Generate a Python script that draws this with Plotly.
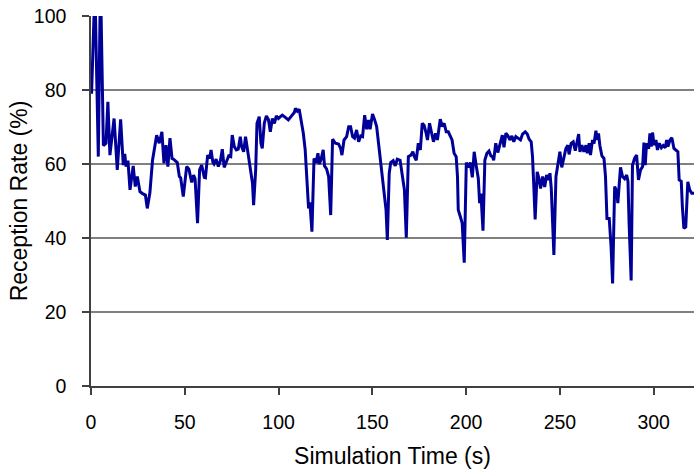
import plotly.graph_objects as go

time_s = [
    0.3, 1.6, 2.4, 3.9, 4.8, 5.4, 6.6, 8, 9, 10.1,
    12.3, 14, 15.8, 17.2, 18, 18.7, 19.7, 20.8, 22.5, 23.6,
    24.7, 26.1, 27.5, 29, 30, 31.4, 32.8, 35, 36.4, 37.8,
    38.9, 40, 41, 42.1, 43.2, 44, 46, 47.1, 47.8, 49.2,
    51, 52.2, 53.7, 54.7, 55.5, 56.8, 57.9, 59, 60.4, 61,
    62.2, 63.3, 64, 65, 65.6, 66.7, 67.9, 69, 70, 71,
    72.2, 73.4, 74.5, 75.3, 76.4, 77.5, 78.5, 79.6, 80.3, 81.4,
    82.4, 83.5, 84.9, 86.1, 86.7, 87.8, 88.5, 89.7, 90.6, 91.3,
    92.4, 93.5, 94.6, 95.6, 96.7, 97.8, 98.8, 99.9, 101, 102,
    103.1, 104.2, 105.2, 106.3, 107.4, 108.4, 109, 110, 111, 112.1,
    113.2, 114.2, 115.3, 116, 116.7, 117.8, 118.9, 120, 121, 121.7,
    122.7, 123.8, 124.5, 125.6, 126.7, 127.8, 128.8, 130.3, 132, 133.1,
    133.8, 134.9, 136.3, 137.4, 138.4, 139.5, 140.5, 141.6, 142.7, 143.8,
    144.8, 145.9, 147, 148, 148.8, 150.1, 151.2, 152.3, 153.3, 154.4,
    155.1, 156.2, 157.3, 158, 159, 159.8, 161.1, 162.2, 163.3, 164.8,
    166, 167.1, 168.1, 169.2, 170.6, 171.6, 172.4, 173.4, 174.5, 175.6,
    176.6, 177.6, 178.7, 179.4, 180.5, 181.6, 182.6, 183.7, 184.7, 186.2,
    187.3, 188.3, 189.4, 190.5, 191.5, 192.5, 193.6, 194.7, 195.4, 195.8,
    196.9, 197.9, 199, 200.1, 201.2, 202.2, 203.3, 204.3, 205.4, 206.5,
    207.2, 207.9, 209, 210, 211.1, 212.2, 213.2, 214, 214.7, 215.8,
    216.9, 218.3, 219.3, 220.2, 221.2, 222.3, 223.3, 224.4, 225.4, 226.5,
    227.8, 229, 230.1, 231.5, 232.6, 233.6, 234.7, 235.4, 236.1, 236.8,
    237.9, 239, 239.7, 240.8, 241.9, 242.9, 244, 244.7, 245.4, 246.1,
    246.8, 247.9, 249, 250, 251, 252.1, 253.2, 254.2, 254.9, 256,
    257.1, 258.2, 259.2, 260, 260.7, 261.7, 262.8, 263.9, 264.6, 265.6,
    266.3, 267.4, 268.2, 269.2, 269.9, 270.6, 271.3, 272.4, 273.5, 274.3,
    275.1, 276.3, 277.3, 278.1, 279.2, 280.3, 280.9, 282.3, 283.4, 284.5,
    285.6, 286.3, 286.9, 288, 288.7, 289.8, 290.9, 291.9, 293, 294.1,
    294.8, 295.5, 296.2, 297.3, 298, 298.7, 299.4, 300.2, 301.2, 302,
    303, 304.1, 305.1, 306.2, 306.9, 307.6, 308.7, 309.7, 310.8, 311.8,
    312.9, 313.6, 314.7, 315.3, 316.1, 317.1, 318.2, 319.2, 320.3, 321.5,
]

reception_rate = [
    79, 100, 100, 62, 100, 100, 65, 65.6, 76.8, 62.4,
    72.3, 58.4, 72.1, 59.7, 62.7, 59.3, 60.9, 53, 59.5, 53.9,
    56.6, 52.5, 52, 51.6, 48, 52.2, 61, 67.8, 65.6, 68.7,
    60.2, 65.1, 59.3, 67, 61.5, 61.3, 60.4, 56.6, 56.3, 51.2,
    59.3, 58.6, 55, 57, 56, 44, 58.4, 59.7, 56.4, 56.3,
    62.4, 61.5, 63.8, 60.4, 60, 61.3, 59.3, 60.9, 64, 59.1,
    60.6, 62.2, 62, 67.8, 64.7, 63.8, 64, 67.4, 64.7, 63.3,
    67.4, 63.8, 58.4, 54.8, 48.9, 58.4, 71, 72.8, 65.6, 64.2,
    71, 73, 72, 68.7, 72.3, 71, 73, 72.3, 72.8, 73.2,
    72.8, 72.3, 71.9, 72.6, 73.2, 73.9, 75, 74.3, 74.8, 71.9,
    68.3, 63.8, 55.7, 48, 49.6, 41.7, 61.5, 60.3, 62.9, 60,
    61.3, 63.8, 59.5, 58.7, 56.6, 46.2, 66.7, 65.6, 65.4, 64.2,
    62.4, 66.5, 67.4, 70.1, 70.1, 67.4, 67, 69.2, 66, 67.6,
    67.4, 73.2, 69.4, 71.9, 69.4, 73.5, 72, 70.1, 65.6, 61.1,
    57.7, 53, 47.6, 39.5, 57.5, 60.4, 60.9, 59.5, 61.3, 61,
    56.6, 53, 40.1, 62, 62.4, 63.3, 62, 61, 65.6, 63.8,
    71, 70.5, 68.3, 66.5, 71, 68.5, 66, 68.3, 66.5, 72.1,
    70.1, 71, 68.7, 68.7, 67.4, 66.5, 62.9, 62, 56.6, 47.6,
    45.8, 44, 33.3, 60.4, 59.1, 60.4, 56.4, 63.3, 59.5, 56.1,
    49.4, 52, 42, 61.1, 62.9, 63.5, 62.2, 62, 61, 65.6,
    63.1, 66, 67.8, 64.5, 68.3, 67.6, 66.5, 67.6, 66, 67.4,
    67, 66.5, 68.1, 68.7, 68.1, 66.7, 66, 62, 53.9, 45,
    57.9, 55.7, 53.4, 56.6, 53.8, 57, 55.7, 57.5, 53.4, 45.8,
    35.4, 56.6, 59.7, 63.3, 59.1, 62.2, 64.2, 65.1, 62.6, 65.6,
    66, 63.6, 65.8, 68.1, 63.3, 65.1, 63.3, 65.1, 62.9, 65.6,
    62.4, 66.5, 65.5, 69, 66.5, 68.3, 65, 62.2, 61.5, 56.7,
    45.3, 45.3, 37.6, 27.7, 53.9, 52.6, 49.4, 59.1, 56.6, 56,
    57, 55.3, 44, 28.5, 59.7, 61.5, 62.4, 55.7, 58.4, 59.3,
    65.8, 59.7, 65.6, 64.1, 68.3, 64.7, 68.5, 65.1, 66.5, 63.8,
    65.6, 64.4, 65, 64.4, 66.5, 64.7, 66.5, 67.1, 64.2, 63.8,
    63.3, 55.7, 55.3, 48.5, 42.6, 43, 55.2, 53, 52.1, 52.1,
]

x_ticks = [0, 50, 100, 150, 200, 250, 300]
y_ticks = [0, 20, 40, 60, 80, 100]
x_title = "Simulation Time (s)"
y_title = "Reception Rate (%)"

fig = go.Figure()
fig.add_trace(go.Scatter(
    x=time_s, y=reception_rate, mode="lines",
    line=dict(color="#000099", width=3),
    showlegend=False, hoverinfo="skip",
))

font = dict(family="Liberation Sans, Arial, sans-serif", size=19.5, color="black")

fig.update_layout(
    width=694, height=471,
    margin=dict(l=91, r=0, t=16, b=85),
    paper_bgcolor="white", plot_bgcolor="white",
    font=font,
    xaxis=dict(
        range=[0, 321.5], tickvals=x_ticks,
        showgrid=False, zeroline=False, automargin=False,
        showline=True, linecolor="#404040", linewidth=1.5,
        ticks="outside", ticklen=7, tickcolor="#404040", tickwidth=1.5,
        ticklabelstandoff=11,
        title=dict(text=x_title, standoff=16),
        tickfont=font,
    ),
    yaxis=dict(
        range=[0, 100], tickvals=y_ticks,
        showgrid=True, gridcolor="#808080", gridwidth=1.5,
        zeroline=False, automargin=False,
        showline=True, linecolor="#404040", linewidth=1.5,
        ticks="outside", ticklen=7, tickcolor="#404040", tickwidth=1.5,
        ticklabelstandoff=12,
        title=dict(text=y_title, standoff=0),
        tickfont=font,
    ),
)

fig.write_html(
    "out.html",
    config={"displayModeBar": False},
    post_script="document.body.style.margin='0';document.body.style.overflow='hidden';",
)
